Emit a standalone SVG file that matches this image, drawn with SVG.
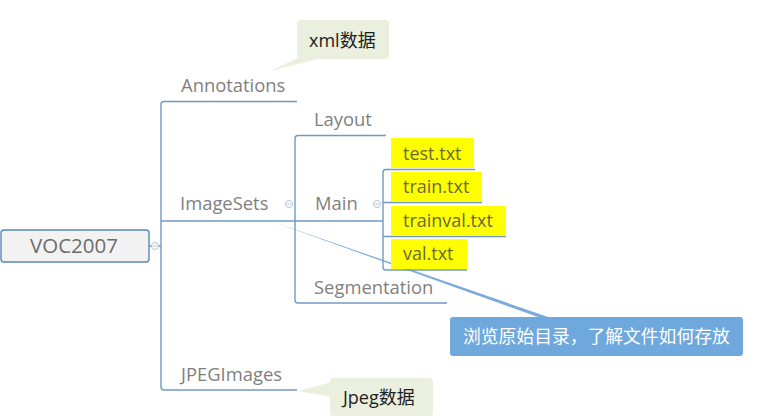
<svg xmlns="http://www.w3.org/2000/svg" width="772" height="418" viewBox="0 0 772 418">
<style>
.br{fill:none;stroke:#7199c4;stroke-width:1.4}
.lbl{font-family:"Open Sans","Noto Sans CJK SC",sans-serif;font-size:18.4px;fill:#7f7f7f}
.file{font-family:"Open Sans","Noto Sans CJK SC",sans-serif;font-size:18px;fill:#6a6a3a}
.note{font-family:"Open Sans","Noto Sans CJK SC",sans-serif;font-size:18px;fill:#222}
.yb{fill:#ffff00}
.gn{fill:#ebefde}
.cc{fill:#fff;stroke:#b3c2d6;stroke-width:1}
.cm{stroke:#b3c2d6;stroke-width:1}
</style>
<rect width="772" height="418" fill="#fff"/>
<g id="connectors">
<path class="br" d="M149,246 H161 M297,101.5 H164 Q161,101.5 161,104.5 V387 Q161,390 164,390 H297 M161,221 H383"/>
<path class="br" d="M386,135.5 H298 Q295,135.5 295,138.5 V300 Q295,303 298,303 H447"/>
<path class="br" d="M475,169.5 H386 Q383,169.5 383,172.5 V267 Q383,270 386,270 H467 M383,202.5 H482 M383,236.5 H506"/>
<polygon points="272,221.5 548,317 538,317" fill="#6aa1d6" opacity="0.9"/>
</g>
<g id="VOC2007">
<rect x="1" y="230" width="148" height="32" rx="3" fill="#f2f2f2" stroke="#5b87b8" stroke-width="1.4"/>
<text x="74" y="253" text-anchor="middle" style="font-family:'Open Sans',sans-serif;font-size:20.5px;fill:#6d6d6d">VOC2007</text>
<circle class="cc" cx="155" cy="246" r="3.5"/><path class="cm" d="M153,246 H157"/>
</g>
<g id="Annotations"><text class="lbl" x="181" y="92">Annotations</text></g>
<g id="ImageSets"><text class="lbl" x="180" y="210">ImageSets</text>
<circle class="cc" cx="289" cy="204" r="3.5"/><path class="cm" d="M287,204 H291"/></g>
<g id="JPEGImages"><text class="lbl" x="181" y="380.5">JPEGImages</text></g>
<g id="Layout"><text class="lbl" x="314" y="126">Layout</text></g>
<g id="Main"><text class="lbl" x="315" y="210">Main</text>
<circle class="cc" cx="377" cy="204" r="3.5"/><path class="cm" d="M375,204 H379"/></g>
<g id="Segmentation"><text class="lbl" x="314" y="294">Segmentation</text></g>
<g id="test"><rect class="yb" x="391" y="138" width="83" height="30"/><text class="file" x="403" y="159.5">test.txt</text></g>
<g id="train"><rect class="yb" x="391" y="172" width="91" height="30"/><text class="file" x="403" y="193">train.txt</text></g>
<g id="trainval"><rect class="yb" x="391" y="206" width="115" height="30"/><text class="file" x="403" y="226.5">trainval.txt</text></g>
<g id="val"><rect class="yb" x="391" y="239" width="76" height="30"/><text class="file" x="403" y="260">val.txt</text></g>
<g id="note-xml">
<polygon class="gn" points="270,71 300,57 326,57"/>
<rect class="gn" x="297" y="20" width="92" height="39" rx="4"/>
<text class="note" x="309" y="47">xml数据</text>
</g>
<g id="note-jpeg">
<polygon class="gn" points="298,391 332,382 332,397"/>
<rect class="gn" x="330" y="378" width="103" height="38" rx="4"/>
<text class="note" x="343" y="404">Jpeg数据</text>
</g>
<g id="note-browse">
<rect x="450" y="317" width="293" height="39" rx="3" fill="#6fa8dc"/>
<text x="463" y="343" style="font-family:'Noto Sans CJK SC',sans-serif;font-size:17.8px;fill:#fff">浏览原始目录，了解文件如何存放</text>
</g>
</svg>
